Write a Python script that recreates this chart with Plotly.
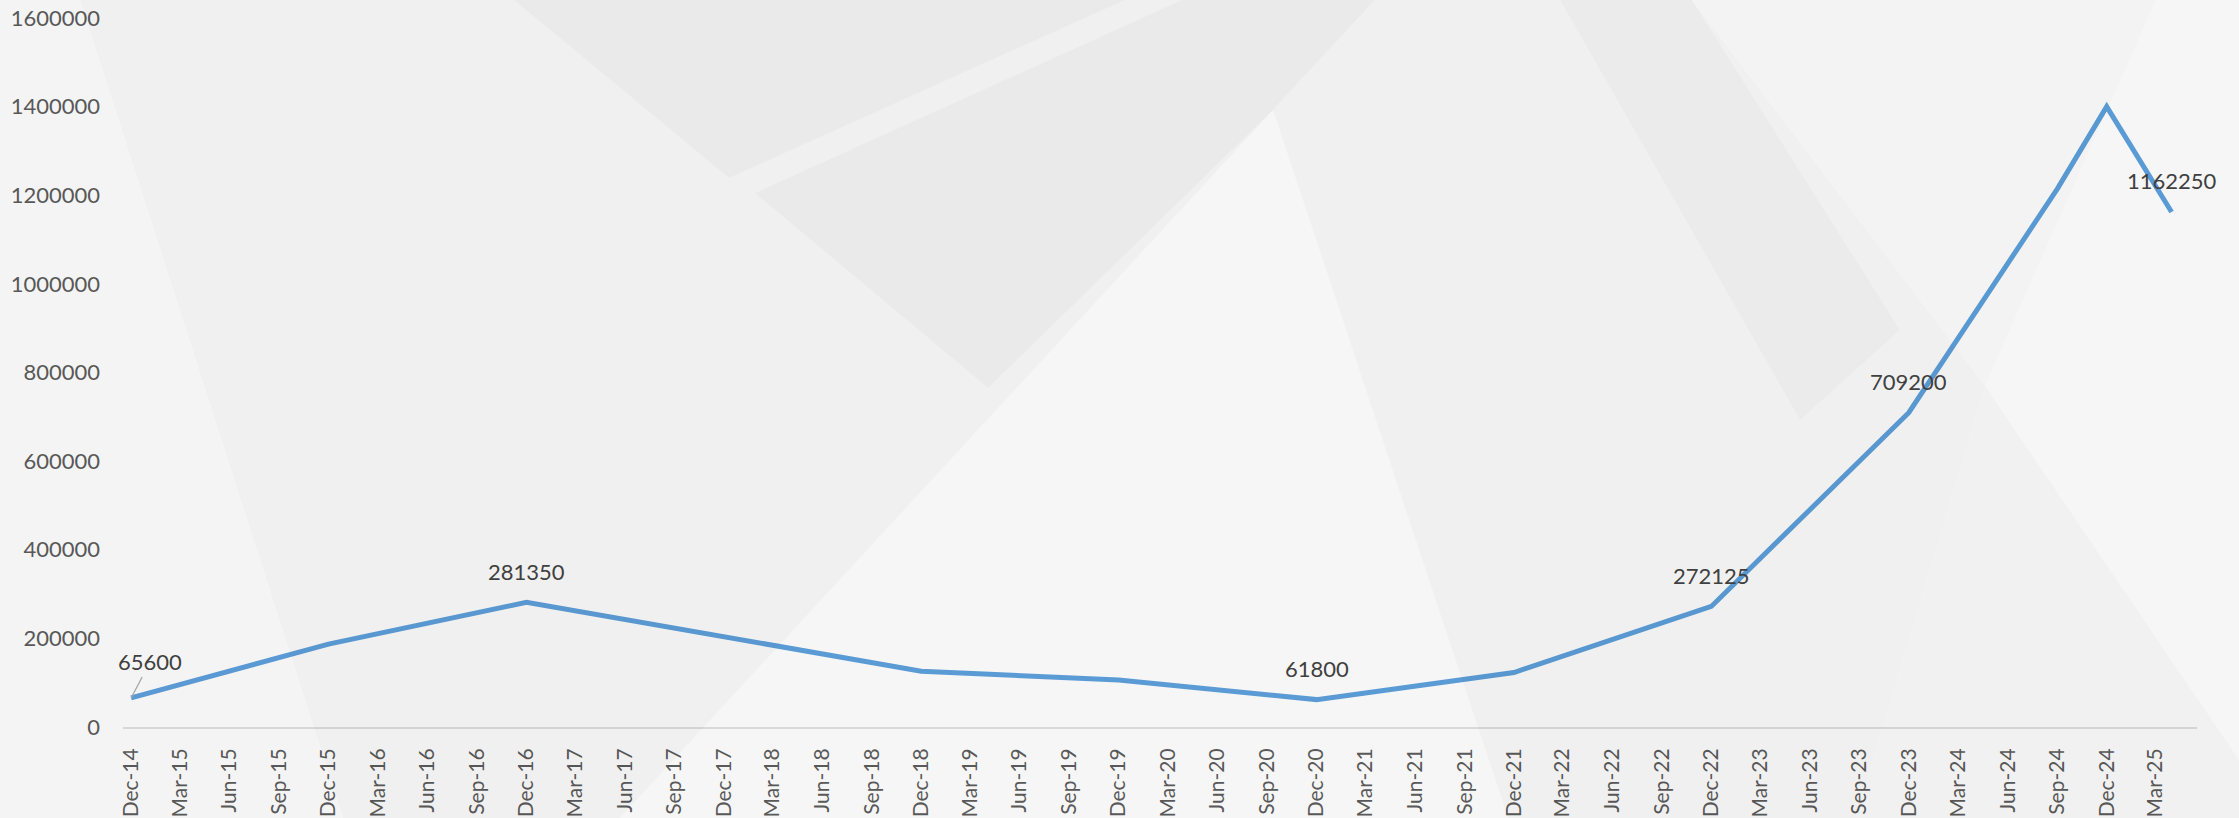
import plotly.graph_objects as go

# ---- data ----
dates = ["2014-12-01", "2015-12-01", "2016-12-01", "2018-12-01", "2019-12-01",
         "2020-12-01", "2021-12-01", "2022-12-01", "2023-12-01", "2024-09-01",
         "2024-12-01", "2025-03-31"]
values = [65600, 187000, 281350, 126000, 106000, 61800, 123000, 272125,
          709200, 1215000, 1400000, 1162250]
labelled = [0, 2, 5, 7, 8, 11]          # points carrying a data label
x_range = ["2014-11-16", "2025-05-17"]
y_ticks = [0, 200000, 400000, 600000, 800000, 1000000, 1200000, 1400000, 1600000]

# body margin is removed by the post script, so the figure sits at (0, 0)
OFF = 0
WIN_W, WIN_H = 2239, 818
W, H = WIN_W - OFF, WIN_H - OFF
# plot box in window pixels
X0, X1, Y0, Y1 = 123, 2197, 18, 727
L, R, T, B = X0 - OFF, WIN_W - X1, Y0 - OFF, WIN_H - Y1
PW, PH = X1 - X0, Y1 - Y0

FONT = "Lato, 'Open Sans', sans-serif"

fig = go.Figure()
fig.add_trace(go.Scatter(
    x=dates, y=values, mode="lines",
    line=dict(color="#5B9BD5", width=5),
    hoverinfo="x+y", showlegend=False,
))

annotations = []
for i in labelled:
    if i == 0:
        annotations.append(dict(
            x=dates[i], y=values[i], xref="x", yref="y",
            text=str(values[i]), showarrow=True, arrowhead=0,
            arrowcolor="#a6a6a6", arrowwidth=1.3, ax=19, ay=-36,
            standoff=0, font=dict(family=FONT, size=22, color="#404040"),
        ))
    else:
        annotations.append(dict(
            x=dates[i], y=values[i], xref="x", yref="y",
            text=str(values[i]), showarrow=False, yshift=31,
            font=dict(family=FONT, size=22, color="#404040"),
        ))


def P(px, py):
    return (px - X0) / PW, (Y1 - py) / PH


def poly(pts, alpha):
    d = ""
    for k, (px, py) in enumerate(pts):
        xp, yp = P(px, py)
        d += ("M" if k == 0 else "L") + f"{xp:.4f},{yp:.4f} "
    d += "Z"
    return dict(type="path", path=d, xref="paper", yref="paper",
                fillcolor=f"rgba(0,0,0,{alpha})", line=dict(width=0), layer="above")


shapes = [
    poly([(0, 0), (80, 0), (343, 818), (0, 818)], 0.008),
    poly([(80, 0), (1375, 0), (1273, 110), (620, 818), (343, 818)], 0.022),
    poly([(514, 0), (1125, 0), (729, 178)], 0.022),
    poly([(755, 193), (1182, 0), (1375, 0), (1273, 110), (988, 388)], 0.022),
    poly([(1375, 0), (1692, 0), (1985, 386), (1856, 818), (1508, 818), (1273, 110)], 0.022),
    poly([(1560, 0), (1692, 0), (1900, 330), (1800, 420)], 0.018),
    poly([(1985, 386), (1856, 818), (2239, 818), (2239, 760)], 0.018),
    poly([(1692, 0), (2156, 0), (1985, 386)], 0.012),
]

fig.update_layout(
    width=W, height=H,
    margin=dict(l=L, r=R, t=T, b=B, pad=0, autoexpand=False),
    paper_bgcolor="#f6f6f6",
    plot_bgcolor="rgba(0,0,0,0)",
    font=dict(family=FONT, size=22, color="#595959"),
    xaxis=dict(
        type="date", range=x_range, automargin=False, ticklabeloverflow="allow",
        tick0="2014-12-01", dtick="M3", tickformat="%b-%y",
        tickangle=-90, showgrid=False, zeroline=False,
        showline=True, linecolor="#d9d9d9", linewidth=2,
        ticks="", ticklabelstandoff=11,
        tickfont=dict(family=FONT, size=21, color="#595959"),
    ),
    yaxis=dict(
        range=[0, 1600000], tickvals=y_ticks, tickformat="d", automargin=False,
        ticklabeloverflow="allow",
        showgrid=False, zeroline=False, showline=False, ticks="",
        ticklabelstandoff=22,
        tickfont=dict(family=FONT, size=22, color="#595959"),
    ),
    annotations=annotations,
    shapes=shapes,
    showlegend=False,
)

fig.write_html(
    "out.html",
    config={"displayModeBar": False},
    post_script="document.body.style.margin='0';document.body.style.background='#f6f6f6';",
)
